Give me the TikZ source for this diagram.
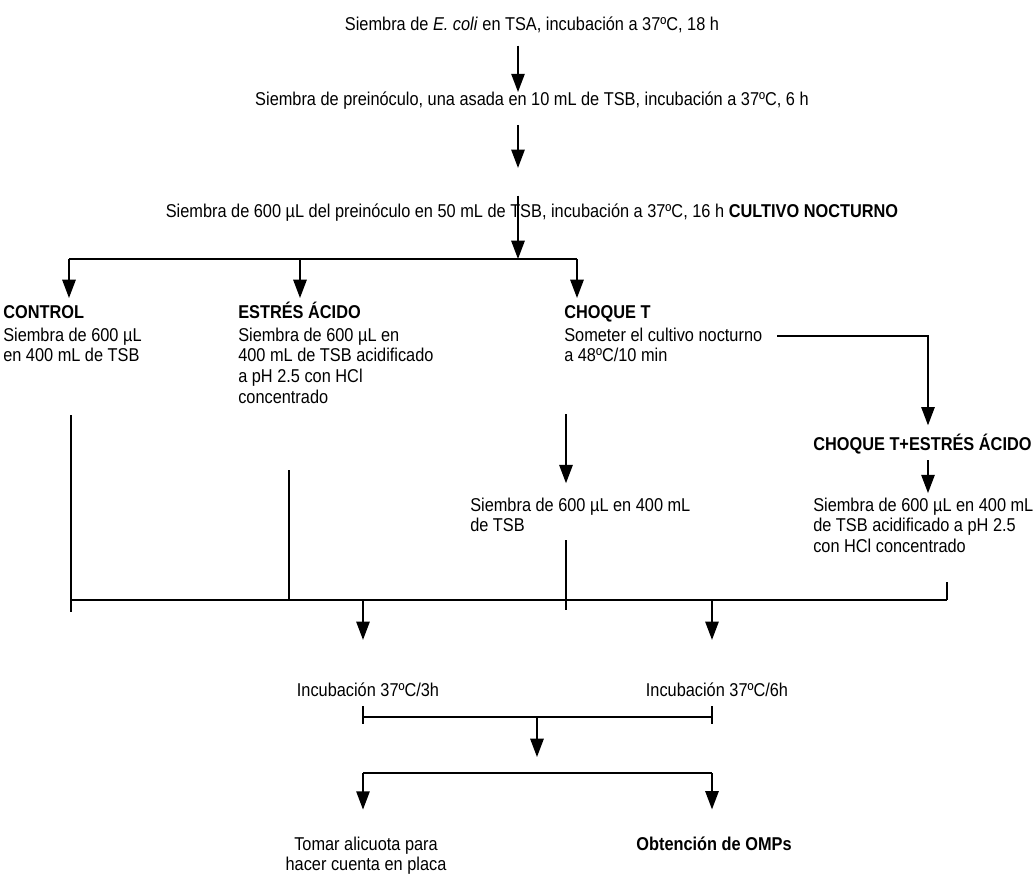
\documentclass[tikz,border=0pt]{standalone}
\usepackage{fontspec}
\setmainfont{Liberation Sans}[FakeStretch=0.88]
\usetikzlibrary{positioning, arrows.meta}

\tikzset{
  texto/.style={inner sep=0pt, font=\fontsize{13.2}{14.7}\selectfont},
  bloque/.style={texto, align=left, anchor=base west},
  flecha/.style={-{Triangle[width=9.5pt,length=13pt]}, line width=1.2pt},
  linea/.style={line width=1.2pt}
}

\begin{document}
\begin{tikzpicture}[x=0.025cm, y=-0.025cm]
    \fill[white] (0,0) rectangle (1034,886);
    \useasboundingbox (0,0) rectangle (1034,886);

    % Cultivo nocturno
    \node[texto, anchor=base] (tsa) at (532,31) {Siembra de \textit{E. coli} en TSA, incubación a 37ºC, 18 h};
    \node[texto, anchor=base] (preinoculo) at (532,106) {Siembra de preinóculo, una asada en 10 mL de TSB, incubación a 37ºC, 6 h};
    \node[texto, anchor=base] (nocturno) at (532,218) {Siembra de 600 µL del preinóculo en 50 mL de TSB, incubación a 37ºC, 16 h \textbf{CULTIVO NOCTURNO}};

    \coordinate (eje) at (518,0);
    \draw[flecha] ([yshift=-8.5pt]tsa.south -| eje) -- (preinoculo.north -| eje);
    \draw[flecha] ([yshift=-10.5pt]preinoculo.south -| eje) -- ++(0,43);

    % Tratamientos (base = ultima linea)
    \coordinate (ramaA) at (69,259);
    \coordinate (ramaB) at (300,259);
    \coordinate (ramaC) at (577,259);
    \draw[flecha] ([yshift=6pt]nocturno.north -| eje) -- (eje |- ramaA);
    \draw[linea] (ramaA) -- (ramaC);
    \foreach \r in {ramaA, ramaB, ramaC}
        \draw[flecha] (\r) -- ++(0,39);

    \node[bloque] (control) at (3,361.7) {\textbf{CONTROL}\\[1.3pt] Siembra de 600 µL\\ en 400 mL de TSB};
    \node[bloque] (acido) at (238,403.1) {\textbf{ESTRÉS ÁCIDO}\\[1.3pt] Siembra de 600 µL en\\ 400 mL de TSB acidificado\\ a pH 2.5 con HCl\\ concentrado};
    \node[bloque] (choque) at (564,361.7) {\textbf{CHOQUE T}\\[1.3pt] Someter el cultivo nocturno\\ a 48ºC/10 min};
    \node[bloque] (mixto) at (813,450.5) {\textbf{CHOQUE T+ESTRÉS ÁCIDO}};
    \node[bloque] (siembraT) at (470,531.7) {Siembra de 600 µL en 400 mL\\ de TSB};
    \node[bloque] (siembraMix) at (813,552.4) {Siembra de 600 µL en 400 mL\\ de TSB acidificado a pH 2.5\\ con HCl concentrado};

    % Choque T
    \coordinate (codo) at (777,336);
    \coordinate (giro) at (928,336);
    \coordinate (bajada) at (566,414);
    \draw[flecha] (codo) -- (giro) -- ([yshift=6pt]giro |- mixto.north);
    \draw[flecha] ([yshift=-4pt]giro |- mixto.south) -- ([yshift=3pt]giro |- siembraMix.north);
    \draw[flecha] (bajada) -- ([yshift=10pt]bajada |- siembraT.north);

    % Union de los tratamientos
    \coordinate (finControl) at (71,415);
    \coordinate (finAcido) at (289,470);
    \coordinate (finT) at (566,540);
    \coordinate (finMix) at (947,582);
    \coordinate (uneIzq) at (71,600);
    \coordinate (uneDer) at (947,600);
    \draw[linea] (finControl) -- ++(0,197);
    \draw[linea] (finAcido) -- (finAcido |- uneIzq);
    \draw[linea] (finT) -- ++(0,70);
    \draw[linea] (finMix) -- (uneDer);
    \draw[linea] (uneIzq) -- (uneDer);

    % Incubacion
    \node[texto, anchor=base] (inc3) at (368,696) {Incubación 37ºC/3h};
    \node[texto, anchor=base] (inc6) at (717,696) {Incubación 37ºC/6h};
    \coordinate (baja3) at (363,600);
    \coordinate (baja6) at (712,600);
    \draw[flecha] (baja3) -- ([yshift=30pt]baja3 |- inc3.north);
    \draw[flecha] (baja6) -- ([yshift=30pt]baja6 |- inc6.north);

    \coordinate (llaveIzq) at (363,717);
    \coordinate (llaveDer) at (712,717);
    \coordinate (centro) at (537,717);
    \draw[linea] (llaveIzq) -- (llaveDer);
    \draw[linea] (llaveIzq) ++(0,-11) -- ++(0,18);
    \draw[linea] (llaveDer) ++(0,-11) -- ++(0,18);
    \draw[flecha] (centro) -- ++(0,40);

    % Resultados
    \node[texto, align=center, anchor=base] (placa) at (366,870.7) {Tomar alicuota para\\ hacer cuenta en placa};
    \node[texto, anchor=base] (omps) at (714,850) {\textbf{Obtención de OMPs}};
    \coordinate (finIzq) at (363,773);
    \coordinate (finDer) at (712,773);
    \draw[linea] (finIzq) -- (finDer);
    \draw[flecha] (finIzq) -- ([yshift=19pt]finIzq |- placa.north);
    \draw[flecha] (finDer) -- ([yshift=19pt]finDer |- omps.north);
\end{tikzpicture}
\end{document}
